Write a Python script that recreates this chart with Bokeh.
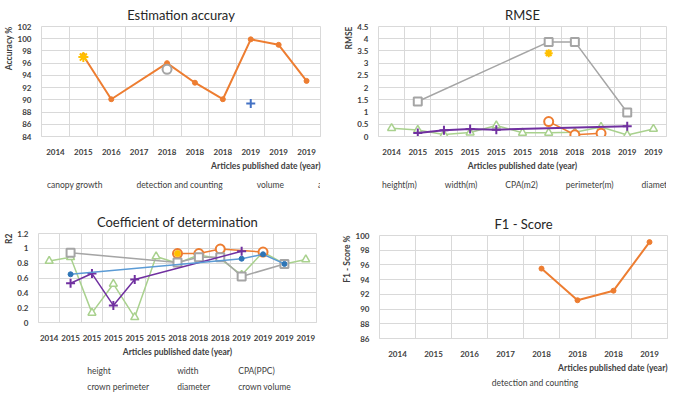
from bokeh.plotting import figure
from bokeh.models import Title, Legend, LegendItem, FixedTicker, Range1d, NumeralTickFormatter
from bokeh.layouts import column, row
from bokeh.embed import file_html
from bokeh.resources import INLINE

FONT = "Lato"
TXT = "#404040"
GRID = "#D9D9D9"

# ---------------- data ----------------
acc_labels = ["2014", "2015", "2016", "2017", "2018", "2018", "2018", "2019", "2019", "2019"]
acc_canopy_growth = [None, None, None, None, None, None, None, 89.4, None, None]
acc_detection_counting = [None, 97.2, 90.1, None, 96.0, 92.8, 90.1, 99.9, 99.0, 93.1]
acc_volume = [None, None, None, None, 95.0, None, None, None, None, None]
acc_area = [None, 97.0, None, None, None, None, None, None, None, None]
acc_yticks = [84, 86, 88, 90, 92, 94, 96, 98, 100, 102]

rmse_labels = ["2014", "2015", "2015", "2015", "2015", "2015", "2018", "2018", "2018", "2019", "2019"]
rmse_height = [0.34, 0.27, 0.08, 0.16, 0.45, 0.15, 0.15, 0.17, 0.39, 0.06, 0.31]
rmse_width = [None, None, None, None, None, None, 0.61, 0.07, 0.13, None, None]
rmse_cpa = [None, 1.43, None, None, None, None, 3.87, 3.87, None, 0.98, None]
rmse_perimeter = [None, None, None, None, None, None, 3.41, None, None, None, None]
rmse_diameter = [None, 0.14, 0.26, 0.31, 0.28, None, None, None, None, 0.42, None]
rmse_yticks = [0, 0.5, 1, 1.5, 2, 2.5, 3, 3.5, 4, 4.5]

r2_labels = ["2014", "2015", "2015", "2015", "2015", "2015", "2018", "2018", "2018",
             "2019", "2019", "2019", "2019"]
r2_height = [0.83, 0.88, 0.13, 0.52, 0.07, 0.89, 0.80, 0.91, 0.86, 0.64, 0.95, 0.79, 0.85]
r2_width = [None, None, None, None, None, None, 0.93, 0.93, 0.99, None, 0.95, None, None]
r2_cpa = [None, 0.94, None, None, None, None, 0.81, 0.88, 0.88, 0.62, None, 0.79, None]
r2_crown_perimeter = [None, None, None, None, None, None, 0.93, None, None, None, None, None, None]
r2_diameter = [None, 0.53, 0.66, 0.23, 0.58, None, None, None, None, 0.96, None, None, None]
r2_crown_volume = [None, 0.65, None, None, None, None, None, None, None, 0.86, 0.92, 0.79, None]
r2_yticks = [0, 0.2, 0.4, 0.6, 0.8, 1.0, 1.2]

f1_labels = ["2014", "2015", "2016", "2017", "2018", "2018", "2018", "2019"]
f1_detection_counting = [None, None, None, None, 95.5, 91.2, 92.5, 99.1]
f1_yticks = [86, 88, 90, 92, 94, 96, 98, 100]


def pts(vals):
    xs = [i for i, v in enumerate(vals) if v is not None]
    ys = [v for v in vals if v is not None]
    return xs, ys


def make_panel(title, labels, yticks, ylab, xalign, series, w, h, borders):
    n = len(labels)
    L, R, T, B = borders
    p = figure(width=w, height=h, output_backend="svg", toolbar_location=None,
               x_range=Range1d(-0.5, n - 0.5), y_range=Range1d(yticks[0], yticks[-1]),
               min_border_left=L, min_border_right=R, min_border_top=T, min_border_bottom=B)
    p.title.text = title
    p.title.align = "center"
    p.title.text_font = FONT
    p.title.text_font_size = "13px"
    p.title.text_font_style = "normal"
    p.title.text_color = "#262626"
    p.title.standoff = 8
    p.outline_line_color = GRID
    p.background_fill_color = "white"
    p.border_fill_color = "white"

    p.xaxis.ticker = FixedTicker(ticks=list(range(n)))
    p.xaxis.major_label_overrides = {i: lab for i, lab in enumerate(labels)}
    p.xaxis.major_tick_line_color = None
    p.xaxis.minor_tick_line_color = None
    p.xaxis.axis_line_color = GRID
    p.xaxis.major_label_standoff = 6
    p.yaxis.ticker = FixedTicker(ticks=yticks)
    p.yaxis.formatter = NumeralTickFormatter(format="0.[0]")
    p.yaxis.major_tick_line_color = None
    p.yaxis.minor_tick_line_color = None
    p.yaxis.axis_line_color = None
    p.yaxis.major_label_standoff = 4
    for ax in (p.xaxis[0], p.yaxis[0]):
        ax.major_label_text_font = FONT
        ax.major_label_text_font_size = "8px"
        ax.major_label_text_font_style = "bold"
        ax.major_label_text_color = TXT

    p.xgrid.ticker = FixedTicker(ticks=[i - 0.5 for i in range(n + 1)])
    p.xgrid.grid_line_color = GRID
    p.ygrid.grid_line_color = GRID

    p.add_layout(Title(text=ylab, align="right", text_font=FONT, text_font_size="8.5px",
                       text_font_style="bold", text_color=TXT, standoff=2), "left")
    p.add_layout(Title(text="Articles published date (year)", align=xalign, text_font=FONT,
                       text_font_size="8.5px", text_font_style="bold", text_color=TXT,
                       standoff=2), "below")

    for (name, vals, color, mcolor, marker, size, fill, lw, mlw) in series:
        xs, ys = pts(vals)
        p.line(xs, ys, line_color=color, line_width=lw)
        p.scatter(xs, ys, marker=marker, size=size, line_color=mcolor,
                  fill_color=fill, line_width=mlw)
    return p


def legend_fig(series, w, h, L, R, loc="center", ncols=None, spacing=8):
    f = figure(width=w, height=h, output_backend="svg", toolbar_location=None,
               x_range=Range1d(0, 1), y_range=Range1d(0, 1),
               x_axis_location=None, y_axis_location=None, title_location=None,
               min_border=0, min_border_left=L, min_border_right=R,
               min_border_top=0, min_border_bottom=0)
    f.outline_line_color = None
    f.background_fill_color = "white"
    f.border_fill_color = "white"
    for g in f.grid:
        g.visible = False
    items = []
    for (name, vals, color, mcolor, marker, size, fill, lw, mlw) in series:
        lr = f.line(x=[], y=[], line_color=color, line_width=lw)
        sr = f.scatter(x=[], y=[], marker=marker, size=size, line_color=mcolor,
                       fill_color=fill, line_width=mlw)
        items.append(LegendItem(label=name, renderers=[lr, sr]))
    leg = Legend(items=items, orientation="horizontal", location=loc,
                 label_text_font=FONT, label_text_font_size="8.5px", label_text_color=TXT,
                 glyph_width=22, glyph_height=12, label_height=12, label_standoff=2,
                 spacing=spacing, padding=0, margin=0, border_line_color=None,
                 background_fill_alpha=0)
    if ncols:
        leg.ncols = ncols
    f.add_layout(leg, "center")
    return f


BLUE = "#4472C4"
ORANGE = "#ED7D31"
GRAY = "#A5A5A5"
YELLOW = "#FFC000"
GREEN = "#A9D18E"
PURPLE = "#7030A0"
CVBLUE = "#2E75B6"

s1 = [
    ("canopy growth", acc_canopy_growth, BLUE, BLUE, "cross", 9, BLUE, 2, 2),
    ("detection and counting", acc_detection_counting, ORANGE, ORANGE, "circle", 5, ORANGE, 2, 1),
    ("volume", acc_volume, GRAY, GRAY, "circle", 9, "white", 2, 2),
    ("area", acc_area, YELLOW, YELLOW, "asterisk", 10, YELLOW, 2, 2),
]
s2 = [
    ("height(m)", rmse_height, GREEN, GREEN, "triangle", 8, "white", 1.5, 1.5),
    ("width(m)", rmse_width, ORANGE, ORANGE, "circle", 9, "white", 1.5, 2),
    ("CPA(m2)", rmse_cpa, GRAY, GRAY, "square", 8, "white", 1.5, 2),
    ("perimeter(m)", rmse_perimeter, YELLOW, YELLOW, "asterisk", 8, YELLOW, 2, 2),
    ("diameter(m)", rmse_diameter, PURPLE, PURPLE, "cross", 9, PURPLE, 2, 2),
]
s3 = [
    ("height", r2_height, GREEN, GREEN, "triangle", 8, "white", 1.5, 1.5),
    ("width", r2_width, ORANGE, ORANGE, "circle", 9, "white", 1.5, 2),
    ("CPA(PPC)", r2_cpa, GRAY, GRAY, "square", 8, "white", 1.5, 2),
    ("crown perimeter", r2_crown_perimeter, YELLOW, YELLOW, "circle", 6, YELLOW, 2, 1),
    ("diameter", r2_diameter, PURPLE, PURPLE, "cross", 9, PURPLE, 1.5, 2),
    ("crown volume", r2_crown_volume, "#5B9BD5", CVBLUE, "circle", 5, CVBLUE, 1.5, 1),
]
s4 = [
    ("detection and counting", f1_detection_counting, ORANGE, ORANGE, "circle", 5, ORANGE, 2, 1),
]

p1 = make_panel("Estimation accuray", acc_labels, acc_yticks, "Accuracy %", "right", s1,
                334, 172, (32, 12, 26, 36))
l1 = legend_fig(s1, 334, 25, 0, 14, spacing=10)

p2 = make_panel("RMSE", rmse_labels, rmse_yticks, "RMSE", "center", s2,
                335, 172, (44, 3, 22, 36))
l2 = legend_fig(s2, 335, 25, 9, 0, spacing=4)

p3 = make_panel("Coefficient of determination", r2_labels, r2_yticks, "R2", "center", s3,
                334, 160, (32, 12, 36, 31))
l3 = legend_fig(s3, 334, 36, 0, 18, loc="bottom_center", ncols=3, spacing=4)

p4 = make_panel("F1 - Score", f1_labels, f1_yticks, "F1 - Score %", "right", s4,
                335, 176, (45, 2, 38, 31))
l4 = legend_fig(s4, 335, 20, 9, 0)

layout = column(row(column(p1, l1), column(p2, l2)),
                row(column(p3, l3), column(p4, l4)))

open("out.html", "w").write(file_html(layout, INLINE))
